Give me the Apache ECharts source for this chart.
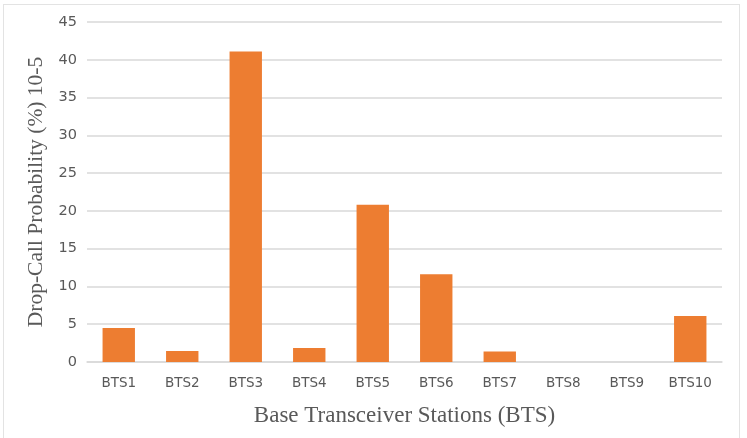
<!DOCTYPE html>
<html>
<head>
<meta charset="utf-8">
<script src="https://cdn.jsdelivr.net/npm/echarts@6/dist/echarts.min.js"></script>
<style>
  html, body { margin: 0; padding: 0; background: #fff; }
  #frame { position: absolute; left: 3px; top: 4px; width: 737px; height: 440px; border: 1px solid #e3e3e3; box-sizing: border-box; }
  #main { position: absolute; left: 0; top: 0; width: 747px; height: 438px; }
</style>
</head>
<body>
<div id="frame"></div>
<div id="main"></div>
<script>
// 基站名称
const stations = ['BTS1', 'BTS2', 'BTS3', 'BTS4', 'BTS5', 'BTS6', 'BTS7', 'BTS8', 'BTS9', 'BTS10']
// 掉话概率 (%) 10-5
const dropProb = [4.5, 1.45, 41.1, 1.85, 20.8, 11.6, 1.4, 0, 0, 6.1]
const yTicks = [0, 5, 10, 15, 20, 25, 30, 35, 40, 45]

const chart = echarts.init(document.getElementById('main'), null, { renderer: 'canvas' })

let option = {
  animation: false,
  grid: {
    left: 87,
    right: 25,
    top: 22,
    bottom: 76
  },
  xAxis: {
    type: 'category',
    data: stations,
    name: 'Base Transceiver Stations (BTS)',
    nameLocation: 'middle',
    nameGap: 42,
    nameTextStyle: {
      fontFamily: 'Liberation Serif',
      fontSize: 23,
      color: '#595959'
    },
    axisLine: { lineStyle: { color: '#d9d9d9', width: 1.5 } },
    axisTick: { show: false },
    axisLabel: {
      margin: 14,
      fontFamily: 'DejaVu Sans',
      fontSize: 13.5,
      color: '#595959'
    }
  },
  yAxis: {
    type: 'value',
    min: yTicks[0],
    max: yTicks[yTicks.length - 1],
    interval: 5,
    name: 'Drop-Call Probability (%) 10-5',
    nameLocation: 'middle',
    nameGap: 38,
    nameTextStyle: {
      fontFamily: 'Liberation Serif',
      fontSize: 21.5,
      color: '#595959'
    },
    axisLine: { show: false },
    axisTick: { show: false },
    axisLabel: {
      margin: 10,
      fontFamily: 'DejaVu Sans',
      fontSize: 14.5,
      color: '#595959'
    },
    splitLine: { lineStyle: { color: '#d9d9d9', width: 1.5 } }
  },
  series: [{
    type: 'bar',
    data: dropProb,
    barWidth: '51%',
    itemStyle: { color: '#ed7d31' }
  }]
}

chart.setOption(option)
</script>
</body>
</html>
